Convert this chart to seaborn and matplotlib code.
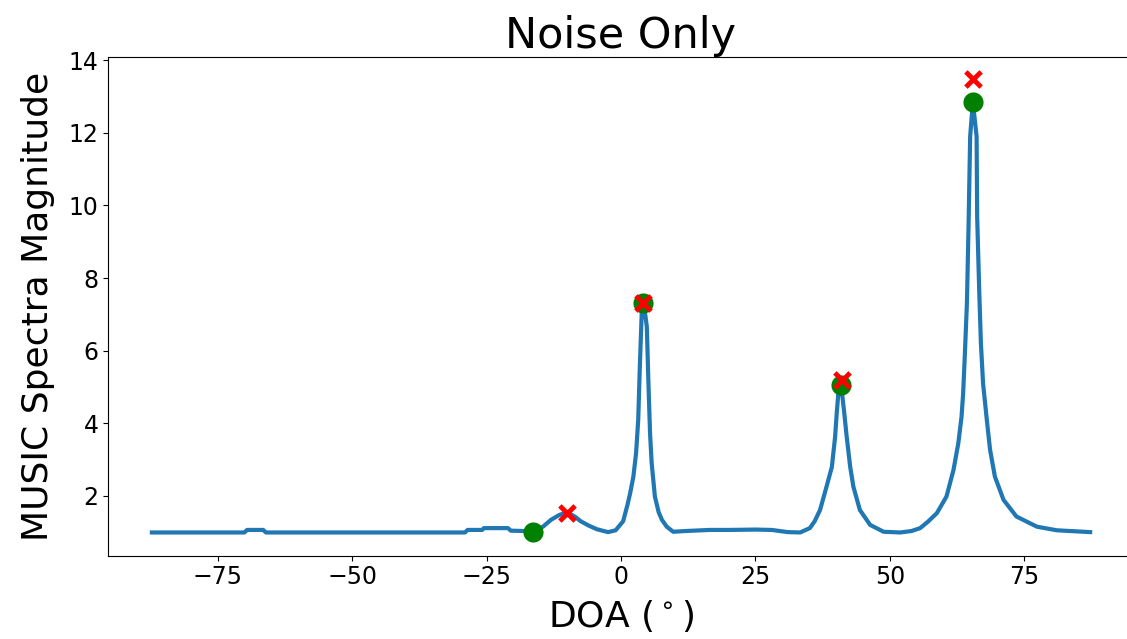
import numpy as np
import pandas as pd
import matplotlib
matplotlib.use('Agg')
import matplotlib.pyplot as plt
import seaborn as sns

# MUSIC spectrum
doa = [-87.2, -70, -69.5, -66.5, -66, -29, -28.5, -25.8, -25.5, -21, -20.5, -18,
       -16.3, -14.5, -13, -11.5, -10, -8.5, -7.5, -6, -4.5, -2.4, -1, 0.4, 1.2,
       1.7, 2.3, 2.8, 3.2, 3.5, 3.85, 4.15, 4.5, 4.8, 5.1, 5.4, 5.7, 6.3, 7.0,
       7.6, 8.5, 9.7, 12, 16.5, 20, 25, 28, 31, 33.3, 35.1, 36, 37, 38.2, 39.2,
       39.8, 40.1, 40.4, 40.9, 41.5, 41.95, 42.6, 43.2, 44.4, 46.3, 48.8, 51.9,
       54, 55.6, 57, 58.7, 60.5, 61.8, 62.7, 63.3, 63.6, 63.9, 64.3, 64.6, 64.9,
       65.4, 66.1, 66.2, 66.6, 66.9, 67.3, 68.0, 68.6, 69.5, 71.1, 73.5, 77.3,
       81, 87.2]
spectrum = [0.99, 0.99, 1.06, 1.06, 0.99, 0.99, 1.06, 1.06, 1.11, 1.11, 1.04, 1.03,
            1.0, 1.15, 1.34, 1.47, 1.55, 1.42, 1.3, 1.18, 1.08, 1.0, 1.05, 1.3, 1.75,
            2.07, 2.53, 3.17, 4.09, 5.56, 7.03, 7.3, 7.0, 6.66, 5.1, 3.72, 2.9, 1.98, 1.55,
            1.34, 1.15, 1.01, 1.03, 1.06, 1.06, 1.07, 1.06, 1.0, 0.99, 1.11, 1.3, 1.61, 2.25, 2.8,
            3.63, 4.28, 4.83, 5.08, 4.28, 3.63, 2.8, 2.25, 1.61, 1.2, 1.01, 0.99,
            1.03, 1.11, 1.28, 1.52, 1.98, 2.71, 3.45, 4.18, 4.83, 5.84, 7.31, 9.42, 11.9,
            12.85, 11.9, 9.7, 7.58, 6.2, 5.1, 4.09, 3.27, 2.53, 1.89, 1.43, 1.15,
            1.05, 1.0]

# estimated peaks (green) and true peaks (red)
est_doa = [-16.3, 4.15, 40.9, 65.4]
est_mag = [1.0, 7.31, 5.06, 12.84]
true_doa = [-10.1, 4.15, 41.0, 65.5]
true_mag = [1.54, 7.31, 5.19, 13.48]

df = pd.DataFrame({'doa': doa, 'mag': spectrum})

fig = plt.figure(figsize=(11.27, 6.39), dpi=100)
ax = fig.add_axes([108.3 / 1127, 83.3 / 639, 1025.4 / 1127, 499 / 639])

sns.lineplot(data=df, x='doa', y='mag', ax=ax, color='#1f77b4', linewidth=3)
sns.scatterplot(x=est_doa, y=est_mag, ax=ax, color='green', s=210,
                linewidth=0, zorder=3)
sns.scatterplot(x=true_doa, y=true_mag, ax=ax, color='red', marker='x', s=120,
                linewidth=3.5, zorder=4)

ax.set_xlim(-95.3, 95.3)
ax.set_ylim(0.35, 14.1)
ax.set_xticks([-75, -50, -25, 0, 25, 50, 75])
ax.set_yticks([2, 4, 6, 8, 10, 12, 14])
ax.tick_params(labelsize=17)
ax.set_title('Noise Only', fontsize=31)
ax.set_xlabel(r'DOA ($^\circ$)', fontsize=26, labelpad=6)
ax.set_ylabel('MUSIC Spectra Magnitude', fontsize=26, labelpad=10)

fig.savefig('out.png', dpi=100)
